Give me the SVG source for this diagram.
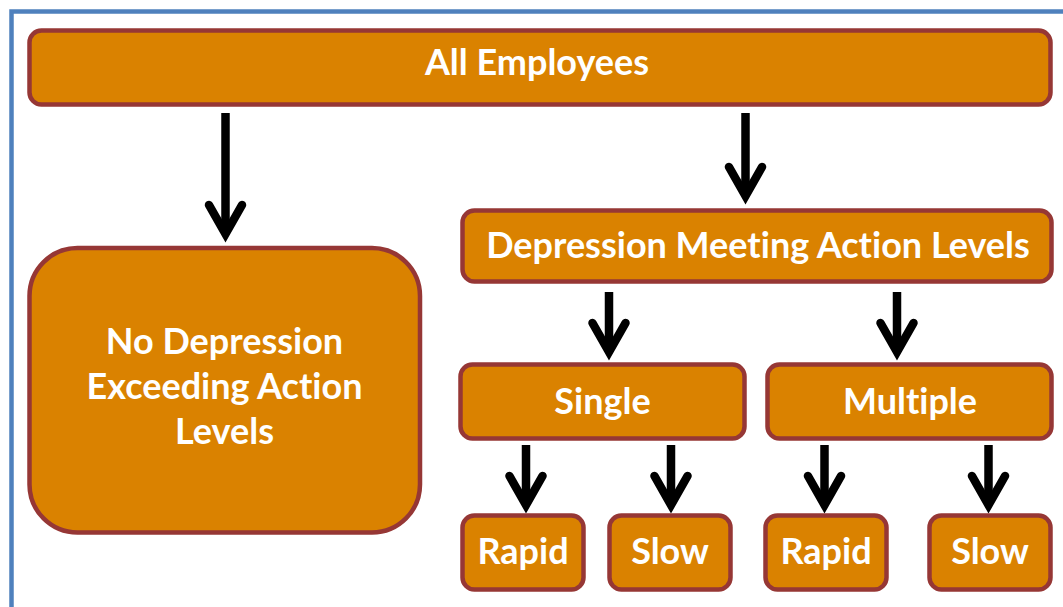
<svg xmlns="http://www.w3.org/2000/svg" width="1063" height="607" viewBox="0 0 1063 607">
<style>
.box{fill:#DA8200;stroke:#963735;stroke-width:4.5}
.lbl{fill:#FFFFFF;font-family:Lato,"Open Sans","Liberation Sans",sans-serif;font-weight:bold;font-size:36px;text-anchor:middle;font-variant-ligatures:none}
.arr{fill:none;stroke:#000;stroke-width:8.5;stroke-linecap:round;stroke-linejoin:miter}
.stem{fill:none;stroke:#000;stroke-width:8.5;stroke-linecap:butt}
</style>
<rect x="0" y="0" width="1063" height="607" fill="#FFFFFF"/>
<rect x="11.5" y="11.5" width="1100" height="700" fill="none" stroke="#4F81BD" stroke-width="4.5"/>
<g id="connectors">
<g id="a1"><path class="stem" d="M225.5 113V232"/><path class="arr" d="M209 205L225.5 234L242 205"/></g>
<g id="a2"><path class="stem" d="M745.5 113V195"/><path class="arr" d="M729 167L745.5 196L762 167"/></g>
<g id="a3"><path class="stem" d="M609 292V350"/><path class="arr" d="M592.5 323L609 352L625.5 323"/></g>
<g id="a4"><path class="stem" d="M897 292V350"/><path class="arr" d="M880.5 323L897 352L913.5 323"/></g>
<g id="a5"><path class="stem" d="M526 445V503"/><path class="arr" d="M509.5 476L526 505L542.5 476"/></g>
<g id="a6"><path class="stem" d="M671 445V503"/><path class="arr" d="M654.5 476L671 505L687.5 476"/></g>
<g id="a7"><path class="stem" d="M824.5 445V503"/><path class="arr" d="M808 476L824.5 505L841 476"/></g>
<g id="a8"><path class="stem" d="M988.5 445V503"/><path class="arr" d="M972 476L988.5 505L1005 476"/></g>
</g>
<g id="all-employees"><rect class="box" x="29.5" y="30.5" width="1021" height="74" rx="12"/><text class="lbl" x="537" y="75">All Employees</text></g>
<g id="no-depression"><rect class="box" x="29.5" y="248" width="390.5" height="284.5" rx="48"/><text class="lbl" x="224.5" y="354">No Depression</text><text class="lbl" x="224.5" y="399">Exceeding Action</text><text class="lbl" x="224.5" y="444">Levels</text></g>
<g id="depression-meeting"><rect class="box" x="462.5" y="210.5" width="589" height="71" rx="12"/><text class="lbl" x="758" y="258">Depression Meeting Action Levels</text></g>
<g id="single"><rect class="box" x="460.5" y="364.5" width="284" height="74" rx="12"/><text class="lbl" x="602.5" y="414">Single</text></g>
<g id="multiple"><rect class="box" x="767.5" y="364.5" width="284" height="74" rx="12"/><text class="lbl" x="910" y="414">Multiple</text></g>
<g id="rapid-1"><rect class="box" x="462.5" y="515.5" width="121" height="74" rx="12"/><text class="lbl" x="523" y="564">Rapid</text></g>
<g id="slow-1"><rect class="box" x="609.5" y="515.5" width="121" height="74" rx="12"/><text class="lbl" x="670" y="564">Slow</text></g>
<g id="rapid-2"><rect class="box" x="765.5" y="515.5" width="121" height="74" rx="12"/><text class="lbl" x="826" y="564">Rapid</text></g>
<g id="slow-2"><rect class="box" x="929.5" y="515.5" width="121" height="74" rx="12"/><text class="lbl" x="990" y="564">Slow</text></g>
</svg>
